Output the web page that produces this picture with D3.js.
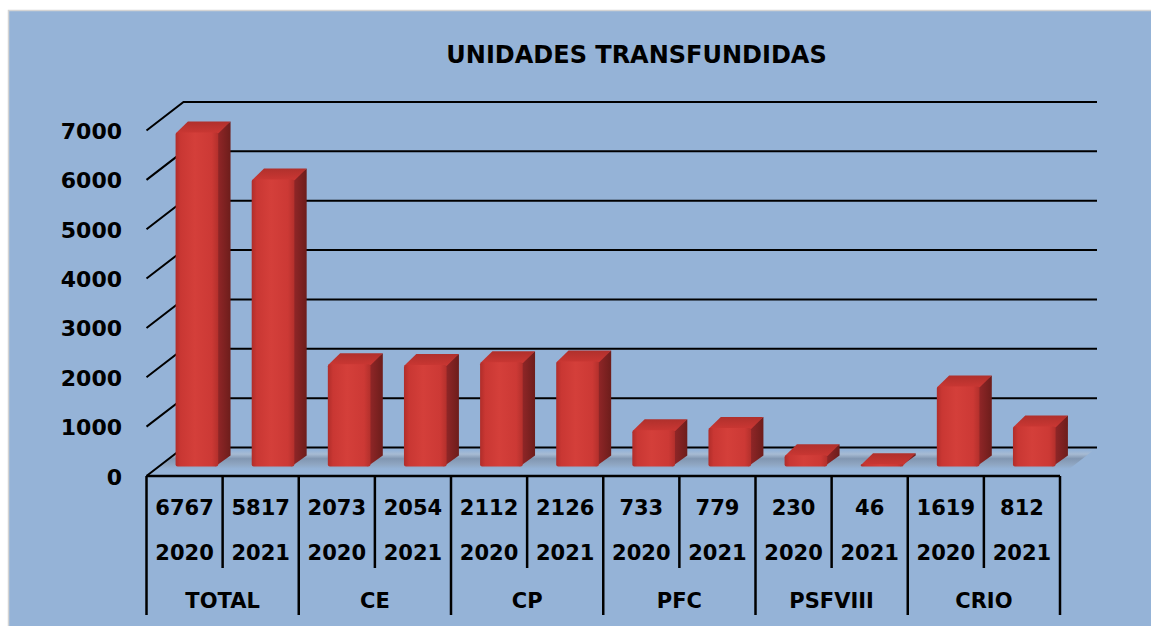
<!DOCTYPE html>
<html>
<head>
<meta charset="utf-8">
<script src="https://cdn.jsdelivr.net/npm/d3@7"></script>
<style>
  html, body { margin: 0; padding: 0; background: #ffffff; }
  svg { display: block; }
  text { font-family: "DejaVu Sans", sans-serif; font-weight: bold; fill: #000; }
</style>
</head>
<body>
<svg id="chart" width="1151" height="626"></svg>
<script>
// ---- data ----
const title = "UNIDADES TRANSFUNDIDAS";
const categories = ["TOTAL", "CE", "CP", "PFC", "PSFVIII", "CRIO"];
const years = ["2020", "2021"];
const values2020 = [6767, 2073, 2112, 733, 230, 1619];
const values2021 = [5817, 2054, 2126, 779, 46, 812];
const yTicks = [0, 1000, 2000, 3000, 4000, 5000, 6000, 7000];

// flatten into leaf columns
const leaves = [];
categories.forEach((c, i) => {
  leaves.push({ cat: c, year: years[0], value: values2020[i], key: c + "|" + years[0] });
  leaves.push({ cat: c, year: years[1], value: values2021[i], key: c + "|" + years[1] });
});

// ---- layout ----
const W = 1151, H = 626;
const floorX0 = 146.5, floorX1 = 1060, floorY = 476;
const depthX = 37, depthY = 28.5;            // full 3D depth offset (front -> back wall)
const barFrontFrac = 1 / 3, barDepthFrac = 1 / 3;

const svg = d3.select("#chart");
const defs = svg.append("defs");

// scales
const x = d3.scaleBand().domain(leaves.map(d => d.key)).range([floorX0, floorX1]).paddingInner(0).paddingOuter(0);
const xBar = d3.scaleBand().domain(leaves.map(d => d.key)).range([floorX0, floorX1]).paddingInner(0.44).paddingOuter(0.22);
const h = d3.scaleLinear().domain([0, 7000]).range([0, 345.5]);

// gradients
const gFront = defs.append("linearGradient").attr("id", "gFront").attr("x1", 0).attr("x2", 1).attr("y1", 0).attr("y2", 0);
[["0%", "#b02d2a"], ["12%", "#c93733"], ["45%", "#d43f3a"], ["85%", "#cc3935"], ["100%", "#b3302c"]]
  .forEach(s => gFront.append("stop").attr("offset", s[0]).attr("stop-color", s[1]));
const gSide = defs.append("linearGradient").attr("id", "gSide").attr("x1", 0).attr("x2", 1).attr("y1", 0).attr("y2", 0);
[["0%", "#97282a"], ["100%", "#6d1d1b"]].forEach(s => gSide.append("stop").attr("offset", s[0]).attr("stop-color", s[1]));
const gTop = defs.append("linearGradient").attr("id", "gTop").attr("x1", 0).attr("x2", 0).attr("y1", 1).attr("y2", 0);
[["0%", "#cb3733"], ["100%", "#b0302c"]].forEach(s => gTop.append("stop").attr("offset", s[0]).attr("stop-color", s[1]));
const gFloor = defs.append("linearGradient").attr("id", "gFloor").attr("x1", 0).attr("x2", 0).attr("y1", 0).attr("y2", 1);
[["0%", "#95b3d7"], ["20%", "#a9bcd3"], ["45%", "#7f93ad"], ["75%", "#8ea4bf"], ["100%", "#95b3d7"]]
  .forEach(s => gFloor.append("stop").attr("offset", s[0]).attr("stop-color", s[1]));

// background
svg.append("rect").attr("x", 8.5).attr("y", 10.5).attr("width", W).attr("height", H)
  .attr("fill", "#95b3d7").attr("stroke", "#d4d4d4").attr("stroke-width", 1.5);

// title
svg.append("text").attr("x", 636.5).attr("y", 63).attr("text-anchor", "middle")
  .attr("font-size", 24).text(title);

// floor shadow band
const fb0 = 0.25, fb1 = 0.9;
svg.append("path")
  .attr("d", d3.line()([
    [floorX0 + depthX * fb0, floorY - depthY * fb0],
    [floorX1 + depthX * fb0, floorY - depthY * fb0],
    [floorX1 + depthX * fb1, floorY - depthY * fb1],
    [floorX0 + depthX * fb1, floorY - depthY * fb1]
  ]) + "Z")
  .attr("fill", "url(#gFloor)").attr("opacity", 0.9);

// grid: back wall horizontal lines + left wall diagonals
const grid = svg.append("g").attr("stroke", "#000").attr("stroke-width", 2).attr("fill", "none");
yTicks.forEach(t => {
  const yf = floorY - h(t);
  const yb = yf - depthY;
  grid.append("path").attr("d", d3.line()([[floorX0, yf], [floorX0 + depthX, yb], [floorX1 + depthX, yb]]));
});

// y labels
svg.append("g").selectAll("text").data(yTicks).join("text")
  .attr("x", 122).attr("y", t => floorY - h(t) + 8.5)
  .attr("text-anchor", "end").attr("font-size", 22).text(t => t);

// bars
const bdx0 = depthX * barFrontFrac, bdy0 = depthY * barFrontFrac;
const bdx = depthX * barDepthFrac, bdy = depthY * barDepthFrac + 1.5;
const bars = svg.append("g").selectAll("g").data(leaves).join("g");
bars.each(function (d) {
  const g = d3.select(this);
  const x0 = xBar(d.key) + bdx0, w = xBar.bandwidth();
  const bottom = floorY - bdy0, top = bottom - h(d.value);
  // side face (slightly overlapped under the front face to avoid seams)
  g.append("path").attr("d", d3.line()([[x0 + w - 3, top], [x0 + w + bdx, top - bdy], [x0 + w + bdx, bottom - bdy], [x0 + w - 3, bottom]]) + "Z")
    .attr("fill", "url(#gSide)");
  // top face
  g.append("path").attr("d", d3.line()([[x0, top + 1], [x0 + bdx, top - bdy], [x0 + w + bdx, top - bdy], [x0 + w, top + 1]]) + "Z")
    .attr("fill", "url(#gTop)");
  // front face
  g.append("rect").attr("x", x0).attr("y", top).attr("width", w).attr("height", Math.max(0.5, bottom - top))
    .attr("rx", Math.min(2, (bottom - top) / 2)).attr("fill", "url(#gFront)");
});

// table lines
const table = svg.append("g").attr("stroke", "#000").attr("stroke-width", 2.5).attr("fill", "none");
table.append("line").attr("x1", floorX0).attr("x2", floorX1).attr("y1", floorY).attr("y2", floorY);
const bounds = leaves.map(d => x(d.key)).concat([floorX1]);
bounds.forEach((bx, i) => {
  const groupEdge = i % 2 === 0;
  table.append("line").attr("x1", bx).attr("x2", bx).attr("y1", floorY).attr("y2", groupEdge ? 615 : 568);
});

// table texts
const tt = svg.append("g").attr("text-anchor", "middle").attr("font-size", 21);
tt.selectAll("text.v").data(leaves).join("text").attr("class", "v")
  .attr("x", d => x(d.key) + x.bandwidth() / 2).attr("y", 515).text(d => d.value);
tt.selectAll("text.yr").data(leaves).join("text").attr("class", "yr")
  .attr("x", d => x(d.key) + x.bandwidth() / 2).attr("y", 560).text(d => d.year);
tt.selectAll("text.cat").data(categories).join("text").attr("class", "cat")
  .attr("x", c => x(c + "|" + years[0]) + x.bandwidth()).attr("y", 607.5).text(c => c);
</script>
</body>
</html>
